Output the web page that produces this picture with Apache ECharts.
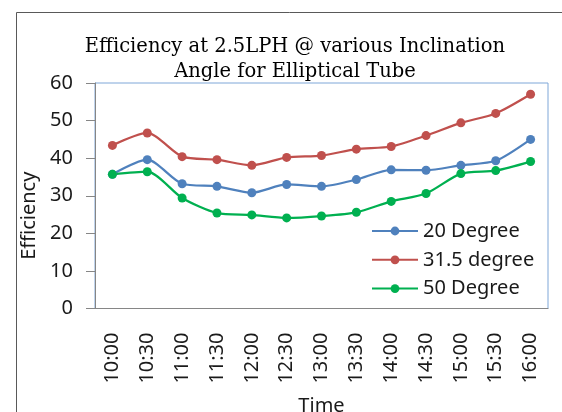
<!DOCTYPE html>
<html>
<head>
<meta charset="utf-8">
<script src="https://cdn.jsdelivr.net/npm/echarts@6/dist/echarts.min.js"></script>
<style>
html,body{margin:0;padding:0;background:#fff;}
#chart{width:562px;height:412px;}
</style>
</head>
<body>
<div id="chart"></div>
<script>
var categories = ['10:00','10:30','11:00','11:30','12:00','12:30','13:00','13:30','14:00','14:30','15:00','15:30','16:00'];
var deg20 = [35.7, 39.6, 33.2, 32.5, 30.8, 33.0, 32.5, 34.3, 36.9, 36.8, 38.1, 39.3, 45.0];
var deg31_5 = [43.4, 46.7, 40.4, 39.6, 38.1, 40.2, 40.7, 42.4, 43.1, 46.0, 49.4, 51.9, 57.0];
var deg50 = [35.7, 36.4, 29.4, 25.4, 24.9, 24.1, 24.6, 25.6, 28.5, 30.6, 35.9, 36.7, 39.1];
var seriesNames = ['20 Degree', '31.5 degree', '50 Degree'];
var yTicks = [0, 10, 20, 30, 40, 50, 60];

var colors = ['#4F81BD', '#C0504D', '#00B050'];
var sans = 'Noto Sans';

function mkSeries(name, data, color) {
  return {
    name: name,
    type: 'line',
    data: data,
    smooth: 0.25,
    symbol: 'circle',
    symbolSize: 9,
    showSymbol: true,
    lineStyle: { color: color, width: 2.25 },
    itemStyle: { color: color },
    emphasis: { disabled: true }
  };
}

var chart = echarts.init(document.getElementById('chart'));
chart.setOption({
  animation: false,
  backgroundColor: '#ffffff',
  color: colors,
  title: {
    text: 'Efficiency at 2.5LPH @ various Inclination\nAngle for Elliptical Tube',
    left: 290,
    top: 29,
    textAlign: 'center',
    textStyle: {
      fontFamily: 'DejaVu Serif',
      fontSize: 19.5,
      fontWeight: 'normal',
      color: '#000',
      lineHeight: 25
    }
  },
  graphic: [{
    type: 'rect',
    shape: { x: 16.5, y: 12.5, width: 600, height: 500 },
    style: { fill: 'none', stroke: '#595959', lineWidth: 1 },
    silent: true,
    z: -1
  }],
  grid: {
    left: 95,
    right: 14,
    top: 83,
    bottom: 103.5,
    containLabel: false,
    outerBoundsMode: 'none',
    show: true,
    borderColor: '#7FA7D8',
    borderWidth: 1,
    backgroundColor: 'transparent'
  },
  legend: {
    orient: 'vertical',
    left: 366,
    top: 216,
    itemWidth: 46,
    itemHeight: 11,
    itemGap: 8.8,
    data: seriesNames,
    textStyle: { fontFamily: sans, fontSize: 20, color: '#1a1a1a' }
  },
  xAxis: {
    type: 'category',
    data: categories,
    boundaryGap: true,
    name: 'Time',
    nameLocation: 'middle',
    nameGap: 88,
    nameTextStyle: { fontFamily: sans, fontSize: 20, color: '#1a1a1a' },
    axisLine: { show: true, lineStyle: { color: '#868686', width: 1 } },
    axisTick: { show: false },
    axisLabel: { rotate: 90, margin: 24, fontFamily: sans, fontSize: 20, color: '#1a1a1a', interval: 0 },
    splitLine: { show: false }
  },
  yAxis: {
    type: 'value',
    min: yTicks[0],
    max: yTicks[yTicks.length - 1],
    interval: 10,
    name: 'Efficiency',
    nameLocation: 'middle',
    nameGap: 48,
    nameTextStyle: { fontFamily: sans, fontSize: 20, color: '#1a1a1a', padding: [0, 40, 0, 0] },
    axisLine: { show: true, lineStyle: { color: '#868686', width: 1 } },
    axisTick: { show: true, inside: false, length: 9, lineStyle: { color: '#868686' } },
    axisLabel: { margin: 22, fontFamily: sans, fontSize: 20, color: '#1a1a1a' },
    splitLine: { show: false }
  },
  series: [
    mkSeries(seriesNames[0], deg20, colors[0]),
    mkSeries(seriesNames[1], deg31_5, colors[1]),
    mkSeries(seriesNames[2], deg50, colors[2])
  ]
});
</script>
</body>
</html>
